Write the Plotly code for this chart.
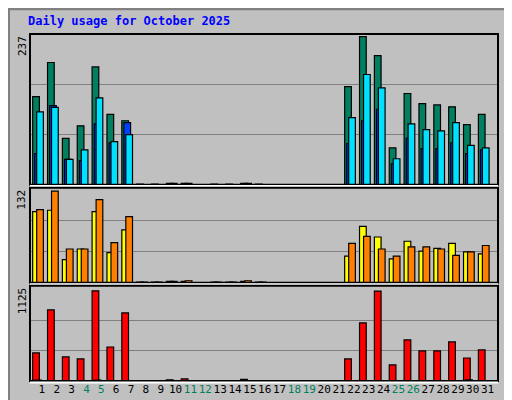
import plotly.graph_objects as go

days = list(range(1, 32))
hits =  [139,193,73,93,186,111,101,1,1,2,2,0,1,1,2,1,0,0,0,0,0,155,234,204,58,144,128,126,123,95,111]
files = [49,125,40,38,96,66,98,0,0,1,1,0,0,0,1,0,0,0,0,0,0,65,101,119,33,73,57,57,66,49,55]
pages = [115,122,40,55,137,68,79,0,0,2,2,0,0,0,2,0,0,0,0,0,0,106,174,153,41,96,87,85,98,62,58]
visits = [101,103,33,48,101,43,75,1,1,2,2,0,1,1,2,1,0,0,0,0,0,38,80,65,34,59,45,49,56,44,41]
sites =  [104,130,48,48,118,57,94,1,1,2,3,0,1,1,3,1,0,0,0,0,0,56,66,48,38,51,51,48,39,44,53]
kbf = [346,878,297,272,1113,420,840,5,5,15,25,0,5,5,20,5,0,0,0,0,0,272,717,1110,198,507,371,371,482,284,383]
kbin = [10,0,0,0,10,0,0,0,0,0,0,0,0,0,0,0,0,0,0,0,0,0,0,0,0,0,0,0,0,15,0]
weekend = [4,5,11,12,18,19,25,26]
ymax = [237, 132, 1125]

MONO = "DejaVu Sans Mono"
fig = go.Figure()
def bar(y, color, off, w, ax, xa):
    xs = [d for d, v in zip(days, y) if v > 0]
    ys = [v for v in y if v > 0]
    fig.add_trace(go.Bar(x=xs, y=ys, marker=dict(color=color, line=dict(color="black", width=1.2)),
                         offset=off, width=w, yaxis=ax, xaxis=xa, showlegend=False))
bar(hits, "#008060", -0.62, 0.45, "y", "x")
bar(files, "#0040FF", -0.48, 0.45, "y", "x")
bar(pages, "#00E0FF", -0.35, 0.45, "y", "x")
bar(visits, "#FFFF00", -0.62, 0.45, "y2", "x2")
bar(sites, "#FF8000", -0.35, 0.45, "y2", "x2")
bar(kbf, "#FF0000", -0.62, 0.45, "y3", "x3")
bar(kbin, "#0080FF", -0.48, 0.45, "y3", "x3")

bot = 376
H = 350
def py(y): return (bot - y) / H
doms = [(py(178), py(26)), (py(277), py(181)), (py(376), py(280))]
tops = [238, 135, 1175]
ticktext = [f"<span style='color:{'#008060' if d in weekend else 'black'}'>{d}</span>" for d in days]
lay = dict(barmode="overlay", width=512, height=400, paper_bgcolor="#C0C0C0", plot_bgcolor="#C0C0C0",
           margin=dict(l=22, r=22, t=26, b=24), font=dict(family=MONO, size=11, color="black"))
for i, (dom, t, m) in enumerate(zip(doms, tops, ymax)):
    s = "" if i == 0 else str(i + 1)
    lay["yaxis" + s] = dict(domain=list(dom), range=[0, t], tickvals=[m / 3, 2 * m / 3], showticklabels=False,
                            ticks="", showgrid=True, gridcolor="#808080", gridwidth=1, zeroline=False,
                            anchor="x" + s, fixedrange=True)
    lay["xaxis" + s] = dict(range=[0.2, 31.7], anchor="y" + s, showgrid=False, zeroline=False, ticks="",
                            showticklabels=(i == 2), tickvals=days, ticktext=ticktext, tickangle=0,
                            tickfont=dict(family=MONO, size=11), **({} if i == 0 else {"matches": "x"}))
fig.update_layout(**lay)

shapes = [dict(type="rect", xref="paper", yref="paper", x0=-22/468, x1=1+22/468, y0=-24/350, y1=1+26/350,
               line=dict(color="#808080", width=4))]
for dom in doms:
    shapes.append(dict(type="rect", xref="paper", yref="paper", x0=0, x1=1, y0=dom[0], y1=dom[1],
                       line=dict(color="black", width=2)))
    shapes.append(dict(type="line", xref="paper", yref="paper", x0=0, x1=1, y0=dom[0]-0.004, y1=dom[0]-0.004,
                       line=dict(color="white", width=2)))
fig.update_layout(shapes=shapes)

ann = [dict(text="<b>Daily usage for October 2025</b>", xref="paper", yref="paper", x=-4/468, y=1+22/350,
            xanchor="left", yanchor="top", showarrow=False, font=dict(family=MONO, size=12, color="#0000FF"))]
for dom, m in zip(doms, ymax):
    ann.append(dict(text=str(m), textangle=-90, xref="paper", yref="paper", x=-8/468, y=dom[1],
                    xanchor="center", yanchor="top", showarrow=False, font=dict(family=MONO, size=11)))
rlabels = ["<span style='color:#00E0FF'>Pages</span> / <span style='color:#0040FF'>Files</span> / <span style='color:#008060'>Hits</span>",
           "<span style='color:#FF8000'>Sites</span> / <span style='color:#FFFF00'>Visits</span>",
           "<span style='color:#FF0000'>KB F</span> / <span style='color:#0080FF'>KB In</span> / <span style='color:#00C000'>KB Out</span>"]
ypos = [(doms[0][1], "top"), (doms[1][1], "top"), (0, "bottom")]
for t, (yy, ya) in zip(rlabels, ypos):
    ann.append(dict(text=t, textangle=-90, xref="paper", yref="paper", x=1+3/468, y=yy,
                    xanchor="left", yanchor=ya, showarrow=False, font=dict(family=MONO, size=11, color="black")))
fig.update_layout(annotations=ann)
fig.write_html("out.html")
